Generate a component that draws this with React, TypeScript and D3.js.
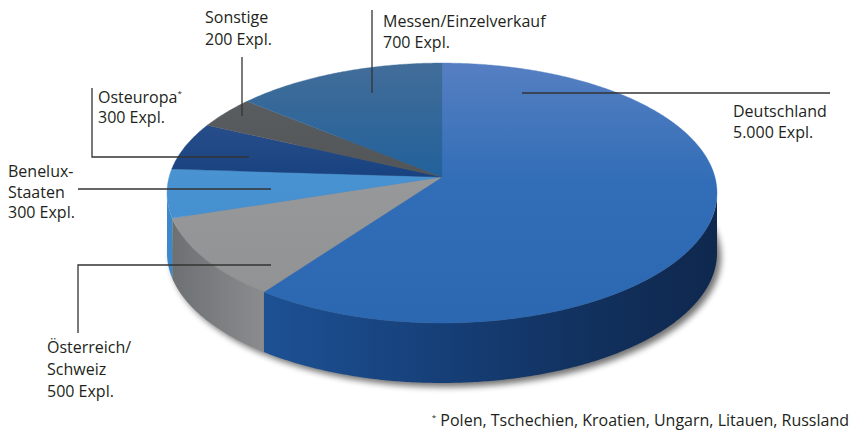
import React from "react";
import * as d3 from "d3";

// ---------- data ----------
const categories = [
  "Deutschland",
  "Österreich/Schweiz",
  "Benelux-Staaten",
  "Osteuropa",
  "Sonstige",
  "Messen/Einzelverkauf",
];
const values = [5000, 500, 300, 300, 200, 700];
const labelLines = [
  ["Deutschland", "5.000 Expl."],
  ["Österreich/", "Schweiz", "500 Expl."],
  ["Benelux-", "Staaten", "300 Expl."],
  ["Osteuropa", "300 Expl."],
  ["Sonstige", "200 Expl."],
  ["Messen/Einzelverkauf", "700 Expl."],
];
const footnoteText = " Polen, Tschechien, Kroatien, Ungarn, Litauen, Russland";

// ---------- layout / style ----------
const W = 851;
const H = 435;
const CX = 442;
const CY = 177; // projected pie centre (apex)
const A = 272.9;
const B = 128;
const K = 0.1231; // perspective factor
const DEPTH = 60;
const FONT = "'Open Sans', 'Noto Sans', sans-serif";
const TEXT = "#231f20";

const topColors = [
  ["#567fc2", "#326eb7", "#2c68b1"],
  ["#a2a4a6", "#96989a", "#8f9193"],
  ["#63a2d8", "#4892d2", "#3f8bcc"],
  ["#3a5b96", "#17427f", "#133b74"],
  ["#5d6164", "#515558", "#4a4e51"],
  ["#426d99", "#21619b", "#1c5b95"],
];
const sideColors = [
  ["#2358a0", "#1d5194", "#163f78", "#11305c", "#0f284e"],
  ["#6c6f71", "#8a8c8e", "#7c7e80", "#7c7e80", "#7c7e80"],
  ["#3c88ca", "#3a84c4", "#3a84c4", "#3a84c4", "#3a84c4"],
  ["#143a70", "#143a70", "#143a70", "#143a70", "#143a70"],
  ["#44484b", "#44484b", "#44484b", "#44484b", "#44484b"],
  ["#1a4f80", "#1a4f80", "#1a4f80", "#1a4f80", "#1a4f80"],
];

// leader lines and label anchors (layout)
const leaders: [number, number][][] = [
  [[522, 93], [830, 93]],
  [[271, 265], [78, 265], [78, 333]],
  [[271, 189], [78, 189]],
  [[249, 157], [92, 157], [92, 88]],
  [[242, 116], [242, 57]],
  [[372, 93], [372, 10]],
];
const labelPos = [
  { x: 733, y: 117, lh: 21 },
  { x: 47, y: 353, lh: 22 },
  { x: 8, y: 177, lh: 20.5 },
  { x: 98, y: 103, lh: 20 },
  { x: 205, y: 23, lh: 22 },
  { x: 383, y: 27, lh: 21 },
];

function rim(theta: number, drop = 0): [number, number] {
  const u = Math.sin(theta);
  const v = Math.cos(theta);
  const w = 1 + K * v;
  return [CX + (A * u) / w, CY - (B * v) / w + drop];
}

function arcPts(a0: number, a1: number, drop = 0): [number, number][] {
  const n = Math.max(2, Math.ceil(((a1 - a0) * 180) / Math.PI / 0.5));
  const pts: [number, number][] = [];
  for (let i = 0; i <= n; i++) pts.push(rim(a0 + ((a1 - a0) * i) / n, drop));
  return pts;
}

const line = d3.line<[number, number]>();

export default function App() {
  // In the reference every smaller share is drawn against the Deutschland
  // figure (5.000 = full circle); Deutschland fills the remaining angle.
  const others = d3.sum(values.slice(1));
  const pie = d3
    .pie<number>()
    .sort(null)
    .value((d, i) => (i === 0 ? values[0] - others : d));
  const arcs = pie(values);

  const thR = Math.acos(-K);
  const thL = 2 * Math.PI - thR;

  const tops = arcs.map((a) => {
    const pts = [[CX, CY] as [number, number], ...arcPts(a.startAngle, a.endAngle)];
    return line(pts) + "Z";
  });

  const sides = arcs.map((a) => {
    const s0 = Math.max(a.startAngle, thR);
    const s1 = Math.min(a.endAngle, thL);
    if (s0 >= s1) return null;
    const pts = [...arcPts(s0, s1), ...arcPts(s0, s1, DEPTH).reverse()];
    return line(pts) + "Z";
  });

  const shadowPts = [...arcPts(0, 2 * Math.PI, DEPTH)];
  const shadowPath = line(shadowPts) + "Z";

  const x0 = CX - 275;
  const x1 = CX + 275;

  return (
    <svg width={W} height={H} style={{ display: "block", position: "absolute", left: 0, top: 0 }}>
      <defs>
        <filter id="blur" x="-20%" y="-20%" width="140%" height="140%">
          <feGaussianBlur stdDeviation="3" />
        </filter>
        {arcs.map((_, i) => (
          <linearGradient key={"t" + i} id={"top" + i} gradientUnits="userSpaceOnUse" x1={0} y1={63} x2={0} y2={323}>
            <stop offset="0" stopColor={topColors[i][0]} />
            <stop offset="0.45" stopColor={topColors[i][1]} />
            <stop offset="1" stopColor={topColors[i][2]} />
          </linearGradient>
        ))}
        {arcs.map((_, i) => (
          <linearGradient key={"s" + i} id={"side" + i} gradientUnits="userSpaceOnUse" x1={x0} y1={0} x2={x1} y2={0}>
            <stop offset="0" stopColor={sideColors[i][0]} />
            <stop offset="0.177" stopColor={sideColors[i][1]} />
            <stop offset="0.5" stopColor={sideColors[i][2]} />
            <stop offset="0.787" stopColor={sideColors[i][3]} />
            <stop offset="1" stopColor={sideColors[i][4]} />
          </linearGradient>
        ))}
      </defs>
      <rect width={W} height={H} fill="#ffffff" />
      <path d={shadowPath} transform="translate(4,4)" fill="#000" opacity={0.55} filter="url(#blur)" />
      {sides.map((d, i) => (d ? <path key={"sd" + i} d={d} fill={`url(#side${i})`} /> : null))}
      {tops.map((d, i) => (
        <path key={"tp" + i} d={d} fill={`url(#top${i})`} stroke={`url(#top${i})`} strokeWidth={0.4} />
      ))}
      {leaders.map((pts, i) => (
        <path key={"ld" + i} d={line(pts) || ""} fill="none" stroke="#333" strokeWidth={1.3} />
      ))}
      {labelLines.map((lines, i) => (
        <text key={"lb" + i} fontFamily={FONT} fontSize={16} fill={TEXT}>
          {lines.map((t, j) => (
            <tspan key={j} x={labelPos[i].x} y={labelPos[i].y + j * labelPos[i].lh}>
              {t}
              {i === 3 && j === 0 ? (
                <tspan fontSize={8} dy={-7}>
                  *
                </tspan>
              ) : null}
            </tspan>
          ))}
        </text>
      ))}
      <text x={849} y={426} textAnchor="end" fontFamily={FONT} fontSize={16} fill={TEXT}>
        <tspan fontSize={8} dy={-6}>
          *
        </tspan>
        <tspan dy={6}>{footnoteText}</tspan>
      </text>
    </svg>
  );
}
